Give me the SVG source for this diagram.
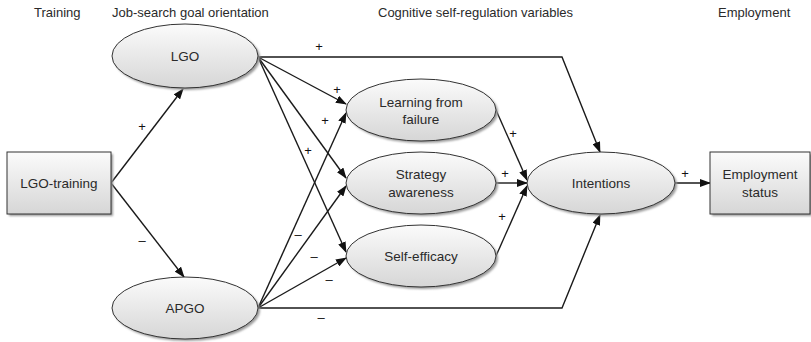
<svg xmlns="http://www.w3.org/2000/svg" width="811" height="342" viewBox="0 0 811 342">
<style>
text{font-family:"Liberation Sans",Arial,sans-serif;font-size:13.5px;fill:#2a2a2a;text-anchor:middle}
.hdr{text-anchor:start;font-size:13px}
.node{fill:url(#g);stroke:#333;stroke-width:1}
.sh{fill:#9a9a9a;filter:url(#blur)}
.c{fill:none;stroke:#1a1a1a;stroke-width:1.4}
.a{marker-end:url(#ah)}
.sg{font-size:13px;fill:#111}
</style>
<defs>
<linearGradient id="g" x1="0" y1="0" x2="0" y2="1">
<stop offset="0" stop-color="#fbfbfb"/>
<stop offset="1" stop-color="#d6d6d6"/>
</linearGradient>
<filter id="blur" x="-10%" y="-10%" width="120%" height="130%"><feGaussianBlur stdDeviation="1.2"/></filter>
<marker id="ah" markerUnits="userSpaceOnUse" markerWidth="11" markerHeight="8" refX="10" refY="4" orient="auto">
<path d="M0,0 L11,4 L0,8 z" fill="#111"/>
</marker>
</defs>
<rect width="811" height="342" fill="#fff"/>
<g id="headers">
<text class="hdr" x="34" y="17">Training</text>
<text class="hdr" x="112" y="17">Job-search goal orientation</text>
<text class="hdr" x="378" y="17">Cognitive self-regulation variables</text>
<text class="hdr" x="718" y="17">Employment</text>
</g>
<g id="connectors">
<path class="c a" d="M111,183 L183,89"/>
<path class="c a" d="M111,183 L184,277"/>
<path class="c a" d="M258,57 L346,104"/>
<path class="c a" d="M258,57 L346,178"/>
<path class="c a" d="M258,57 L346,252"/>
<path class="c a" d="M258,57 H562 L600,152"/>
<path class="c a" d="M258,308 L346,113"/>
<path class="c a" d="M258,308 L346,186"/>
<path class="c a" d="M258,308 L346,258"/>
<path class="c a" d="M258,308 H562 L600,215"/>
<path class="c a" d="M496,110 L527,180"/>
<path class="c a" d="M496,183 L527,183"/>
<path class="c a" d="M496,256 L527,186"/>
<path class="c a" d="M675,183 L710,183"/>
</g>
<g id="labels">
<text class="sg" x="142" y="131">+</text>
<text class="sg" x="142" y="245">–</text>
<text class="sg" x="319" y="51">+</text>
<text class="sg" x="337" y="94">+</text>
<text class="sg" x="325" y="125">+</text>
<text class="sg" x="308" y="155">+</text>
<text class="sg" x="298" y="239">–</text>
<text class="sg" x="314" y="261">–</text>
<text class="sg" x="329" y="284">–</text>
<text class="sg" x="321" y="322">–</text>
<text class="sg" x="513" y="138">+</text>
<text class="sg" x="505" y="178">+</text>
<text class="sg" x="502" y="221">+</text>
<text class="sg" x="685" y="178">+</text>
</g>
<g id="lgo-training">
<rect class="sh" x="9" y="154" width="104" height="62"/>
<rect class="node" x="7" y="152" width="104" height="62"/>
<text x="59" y="188">LGO-training</text>
</g>
<g id="lgo">
<ellipse class="sh" cx="187" cy="58" rx="73" ry="32"/>
<ellipse class="node" cx="185" cy="56" rx="73" ry="32"/>
<text x="185" y="61">LGO</text>
</g>
<g id="apgo">
<ellipse class="sh" cx="187" cy="310" rx="73" ry="31"/>
<ellipse class="node" cx="185" cy="308" rx="73" ry="31"/>
<text x="185" y="313">APGO</text>
</g>
<g id="learning">
<ellipse class="sh" cx="423" cy="112" rx="75" ry="31"/>
<ellipse class="node" cx="421" cy="110" rx="75" ry="31"/>
<text x="421" y="107">Learning from</text>
<text x="421" y="124">failure</text>
</g>
<g id="strategy">
<ellipse class="sh" cx="423" cy="185" rx="75" ry="31"/>
<ellipse class="node" cx="421" cy="183" rx="75" ry="31"/>
<text x="421" y="179">Strategy</text>
<text x="421" y="197">awareness</text>
</g>
<g id="selfefficacy">
<ellipse class="sh" cx="423" cy="258" rx="75" ry="31"/>
<ellipse class="node" cx="421" cy="256" rx="75" ry="31"/>
<text x="421" y="261">Self-efficacy</text>
</g>
<g id="intentions">
<ellipse class="sh" cx="603" cy="185" rx="74" ry="31"/>
<ellipse class="node" cx="601" cy="183" rx="74" ry="31"/>
<text x="601" y="188">Intentions</text>
</g>
<g id="employment">
<rect class="sh" x="712" y="154" width="100" height="62"/>
<rect class="node" x="710" y="152" width="100" height="62"/>
<text x="760" y="179">Employment</text>
<text x="760" y="197">status</text>
</g>
</svg>
